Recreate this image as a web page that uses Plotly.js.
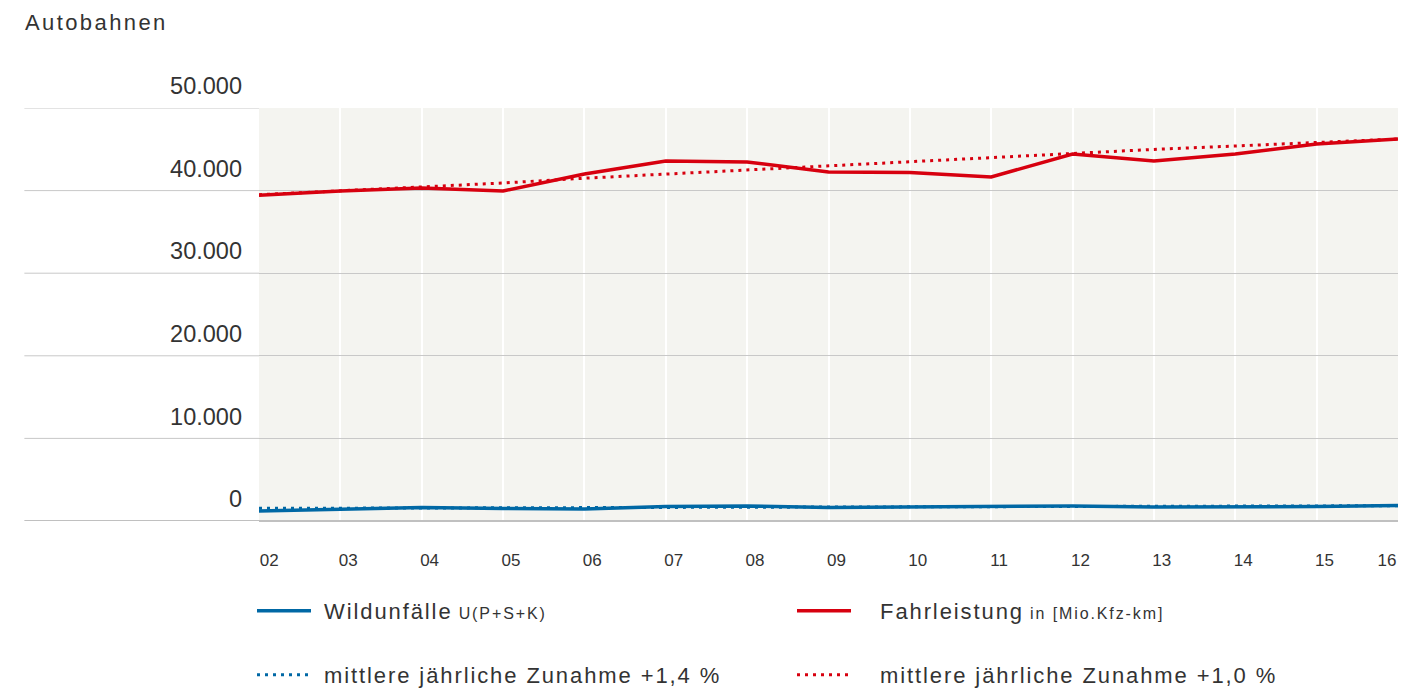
<!DOCTYPE html>
<html>
<head>
<meta charset="utf-8">
<script src="https://cdn.plot.ly/plotly-3.0.1.min.js"></script>
<style>html,body{margin:0;padding:0;background:#fff;}#chart{width:1421px;height:690px;}</style>
</head>
<body>
<div id="chart"></div>
<script>
const years = ['02','03','04','05','06','07','08','09','10','11','12','13','14','15','16'];
const PAD = '\u00a0'.repeat(8);
const tickLabels = ['\u00a0' + PAD + '02', PAD + '03', PAD + '04', PAD + '05', PAD + '06', PAD + '07', PAD + '08', PAD + '09', PAD + '10', PAD + '11', PAD + '12', PAD + '13', PAD + '14', PAD + '15', '16'];
const fahrleistung = [39450, 39950, 40300, 39950, 42000, 43580, 43470, 42250, 42200, 41650, 44430, 43580, 44430, 45640, 46250];
const fahrleistungTrend = [39500, 39950, 40450, 40920, 41500, 42000, 42480, 42980, 43460, 43950, 44540, 44990, 45400, 45820, 46250];
const wildunfaelle = [1200, 1390, 1630, 1510, 1450, 1750, 1820, 1630, 1690, 1750, 1820, 1690, 1690, 1750, 1880];
const wildTrend = [1530, 1550, 1570, 1590, 1610, 1640, 1660, 1690, 1710, 1730, 1760, 1780, 1800, 1820, 1850];
const yTicks = [0, 10000, 20000, 30000, 40000, 50000];

const RED = '#d7000f';
const BLUE = '#0068a5';
const FONT = 'Liberation Sans, Arial, sans-serif';
const LS = 'letter-spacing:1.9px';
const GAP1 = '\u00a0';
const GAP2 = '\u00a0\u00a0\u00a0';

const traces = [
  {x: years, y: wildunfaelle, type: 'scatter', mode: 'lines', name: '<span style="' + LS + '">' + GAP1 + 'Wildunfälle</span> <span style="font-size:16px;' + LS + '">U(P+S+K)</span>', line: {color: BLUE, width: 3.5}, legend: 'legend'},
  {x: years, y: fahrleistung, type: 'scatter', mode: 'lines', name: '<span style="' + LS + '">' + GAP2 + 'Fahrleistung</span> <span style="font-size:16px;' + LS + '">in [Mio.Kfz-km]</span>', line: {color: RED, width: 3.5}, legend: 'legend'},
  {x: years, y: wildTrend, type: 'scatter', mode: 'lines', name: '<span style="' + LS + '">' + GAP1 + 'mittlere jährliche Zunahme +1,4 %</span>', line: {color: BLUE, width: 3, dash: '3px,5px'}, legend: 'legend2'},
  {x: years, y: fahrleistungTrend, type: 'scatter', mode: 'lines', name: '<span style="' + LS + '">' + GAP2 + 'mittlere jährliche Zunahme +1,0 %</span>', line: {color: RED, width: 3, dash: '3px,5px'}, legend: 'legend2'}
];
const data = [traces[2], traces[3], traces[0], traces[1]];

const shapes = [
  {type: 'rect', xref: 'x', yref: 'paper', x0: 0, x1: years.length - 1, y0: 0, y1: 1, fillcolor: '#f4f4f0', line: {width: 0}, layer: 'below'}
];
yTicks.forEach(v => {
  shapes.push({type: 'line', xref: 'paper', yref: 'y', x0: -0.206, x1: 0, y0: v, y1: v, line: {color: v === 0 ? '#c0c0c0' : '#c8c8c8', width: v === 0 ? 2 : 1}, layer: 'below'});
});

const legendCommon = {
  orientation: 'h', xref: 'container', yref: 'container', x: 252/1421, xanchor: 'left', yanchor: 'middle',
  entrywidth: 471, entrywidthmode: 'pixels', itemwidth: 54,
  font: {size: 22, color: '#333333', family: FONT}, bgcolor: 'rgba(0,0,0,0)', traceorder: 'normal'
};

const layout = {
  width: 1421, height: 690,
  margin: {l: 259, r: 23, t: 108, b: 169, autoexpand: false},
  paper_bgcolor: '#ffffff',
  plot_bgcolor: 'rgba(0,0,0,0)',
  separators: ',.',
  font: {family: FONT, color: '#333333'},
  title: {text: '<span style="letter-spacing:2.4px">Autobahnen</span>', x: 25/1421, xanchor: 'left', xref: 'container', yref: 'container', y: 1 - 22/690, yanchor: 'middle', font: {size: 22, color: '#333333', family: FONT}},
  showlegend: true,
  xaxis: {
    type: 'category', range: [0, years.length - 1],
    tickvals: years, ticktext: tickLabels,
    showgrid: true, gridcolor: '#ffffff', gridwidth: 2,
    showline: false, zeroline: false, ticks: '',
    tickfont: {size: 17, color: '#333333'},
    ticklabelstandoff: 27, ticklabelshift: -11,
    fixedrange: true
  },
  yaxis: {
    range: [0, 50000], tickvals: yTicks, tickformat: ',d',
    showgrid: true, gridcolor: '#c8c8c8', gridwidth: 1,
    zeroline: true, zerolinecolor: '#c0c0c0', zerolinewidth: 2,
    showline: false, ticks: '',
    tickfont: {size: 23.5, color: '#333333'},
    ticklabelstandoff: 16, ticklabelshift: -22,
    fixedrange: true
  },
  legend: Object.assign({}, legendCommon, {y: (690 - 611) / 690}),
  legend2: Object.assign({}, legendCommon, {y: (690 - 675) / 690}),
  shapes: shapes
};

Plotly.newPlot('chart', data, layout, {displayModeBar: false, staticPlot: true});
</script>
</body>
</html>
